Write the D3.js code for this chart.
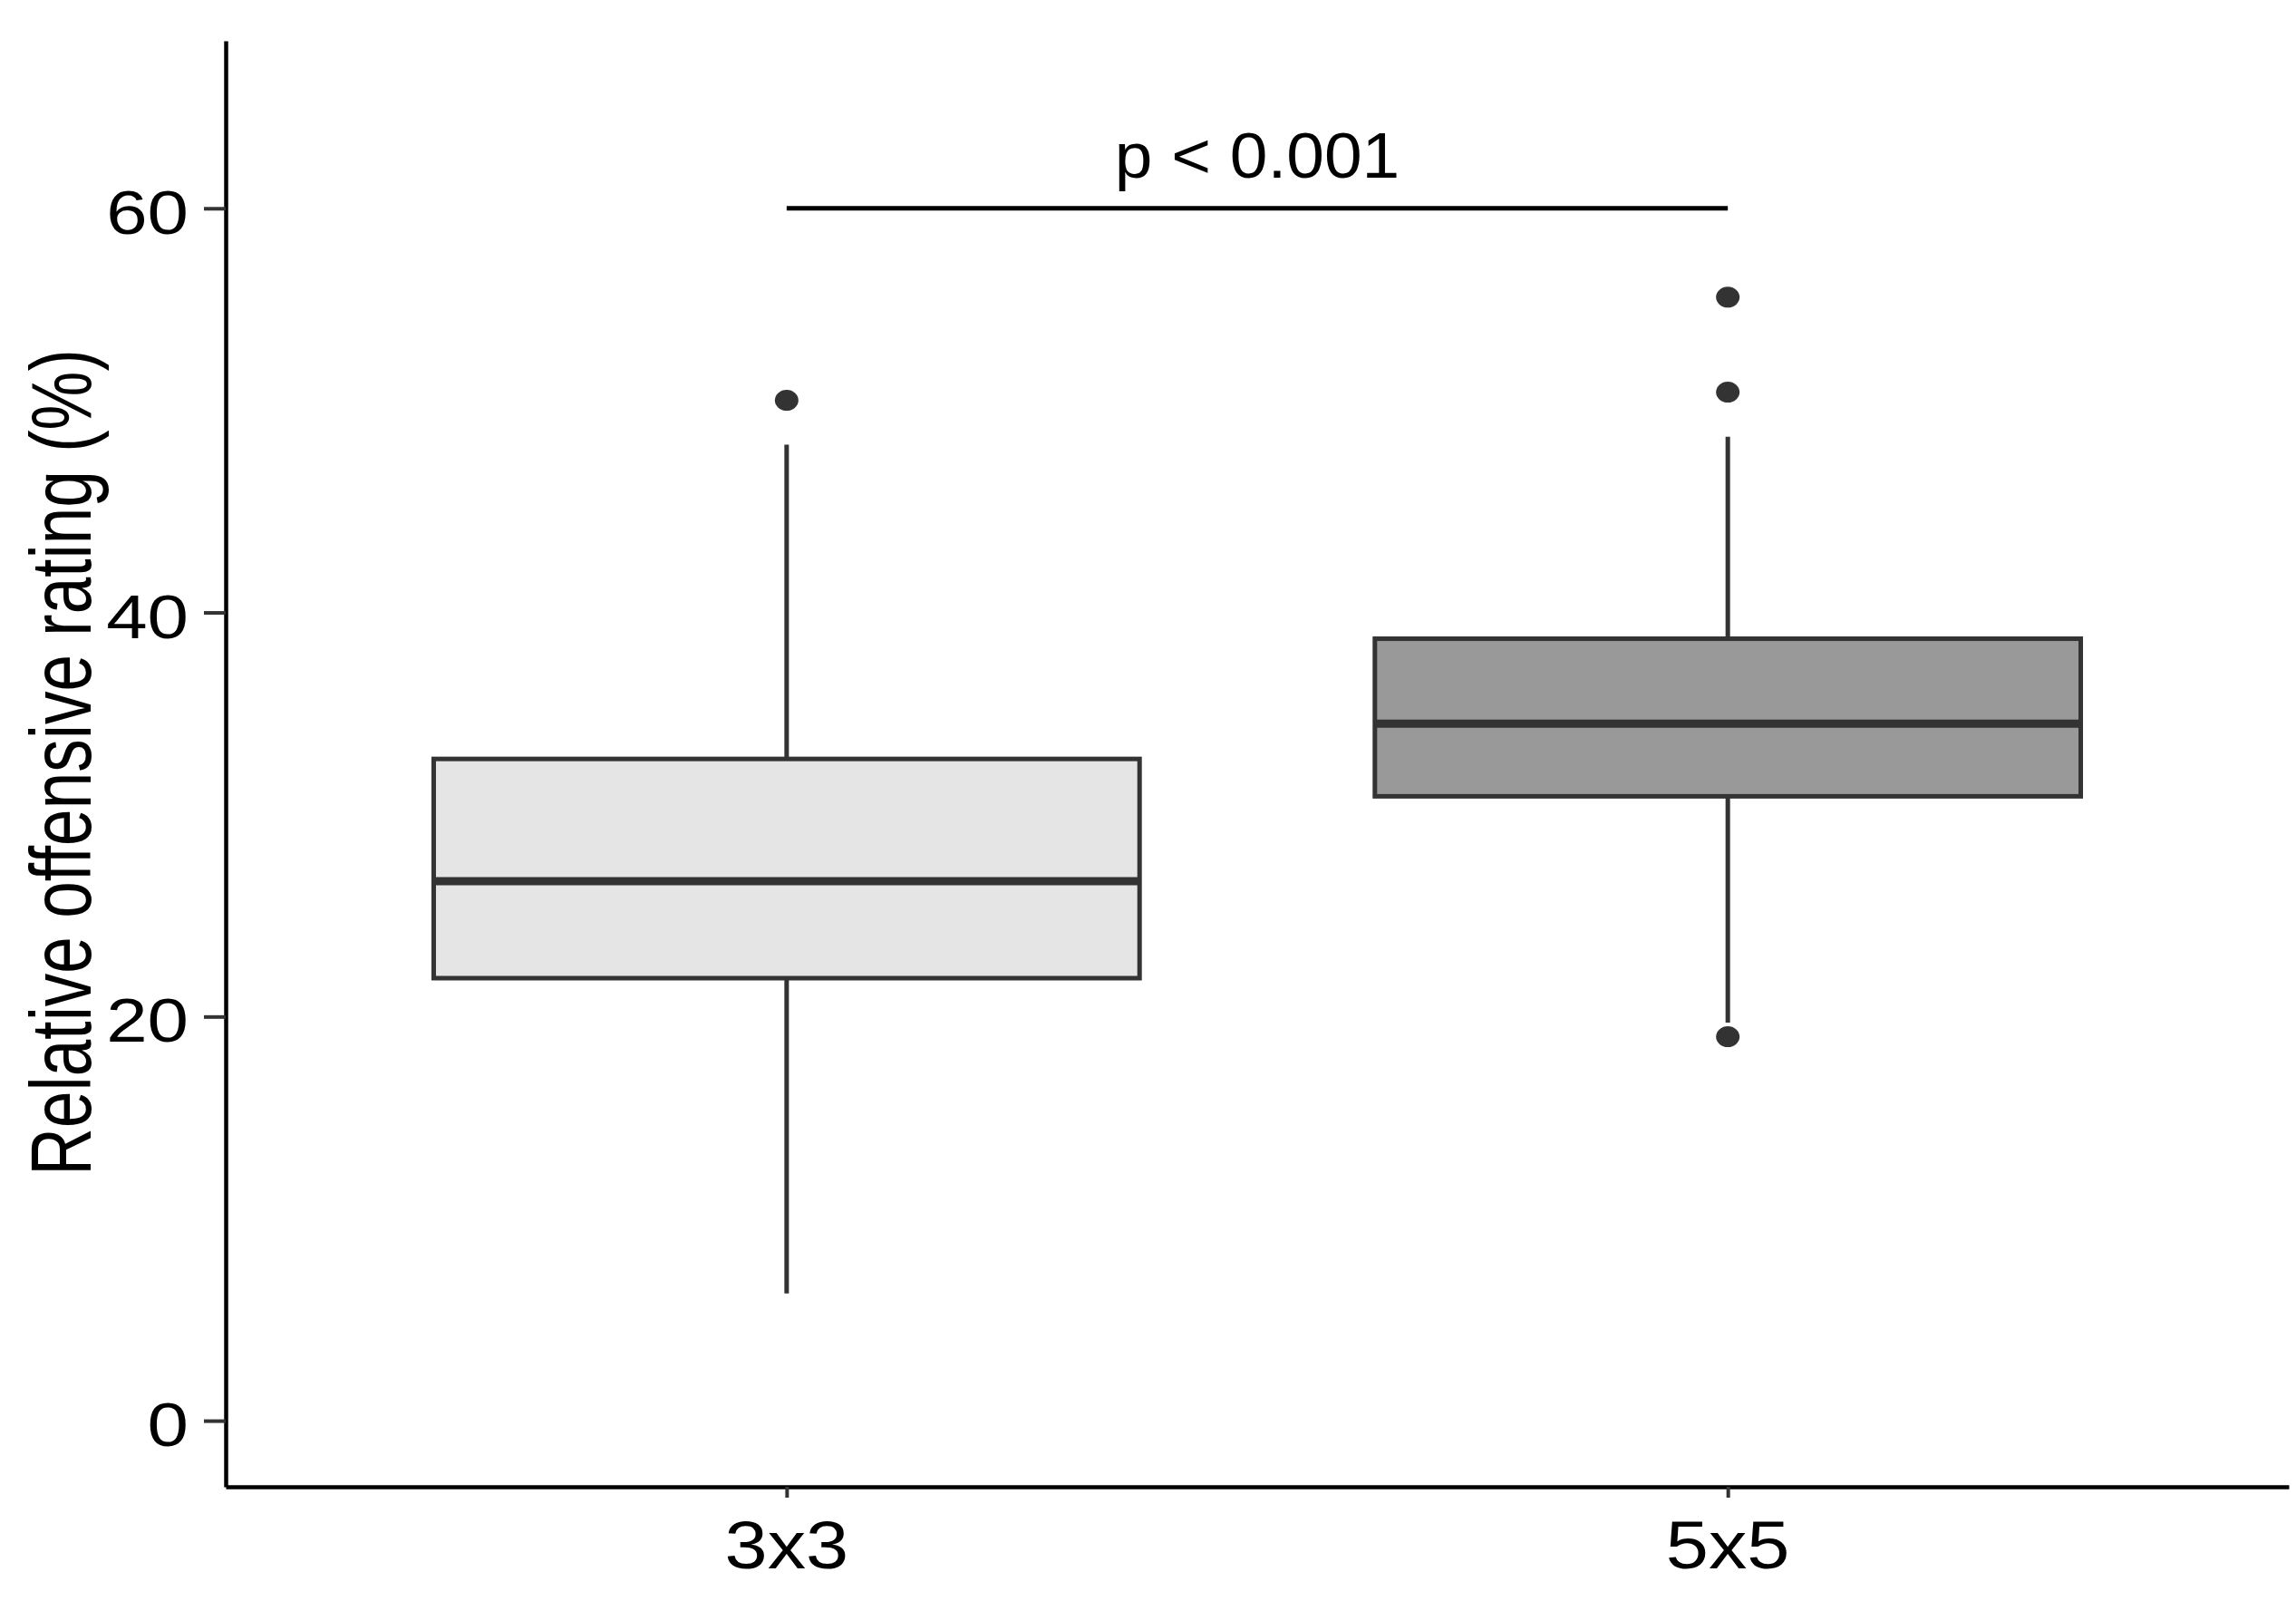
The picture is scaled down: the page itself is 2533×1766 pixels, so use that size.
<!DOCTYPE html>
<html>
<head>
<meta charset="utf-8">
<script src="https://cdn.jsdelivr.net/npm/d3@7"></script>
<style>
  body { margin: 0; background: #fff; }
  text { font-family: 'Liberation Sans', Arial, sans-serif; fill: #000; }
</style>
</head>
<body>
<div id="chart"></div>
<script>
// data
const groups = ['3x3', '5x5']
const lowerWhisker = [6.3, 19.7]
const q1 = [21.9, 30.9]
const median = [26.7, 34.5]
const q3 = [32.75, 38.7]
const upperWhisker = [48.3, 48.7]
const outliers = [[50.5], [55.6, 50.9, 19.0]]
const fills = ['#e5e5e5', '#999999']
const yTicks = [0, 20, 40, 60]
const pLabel = 'p < 0.001'
const pBarValue = 60

const W = 2533, H = 1766

const svg = d3.select('#chart').append('svg')
  .attr('width', W)
  .attr('height', H)

const x = d3.scalePoint()
  .domain(groups)
  .range([249, 2525])
  .padding(0.596)

const y = d3.scaleLinear()
  .domain([-3.27, 68.29])
  .range([1640, 45])

const boxW = x.step() * 0.75

// y axis
const yAxis = svg.append('g')
  .attr('transform', 'translate(249,0)')
  .call(d3.axisLeft(y).tickValues(yTicks).tickSize(24).tickSizeOuter(0).tickFormat(''))
yAxis.select('.domain').attr('stroke', '#000').attr('stroke-width', 4.5)
yAxis.selectAll('.tick line').attr('stroke', '#333').attr('stroke-width', 4)

svg.append('g').selectAll('text')
  .data(yTicks)
  .enter()
  .append('text')
  .attr('transform', (d) => `translate(208,${y(d) + 28}) scale(1.2,1)`)
  .attr('text-anchor', 'end')
  .attr('font-size', 68)
  .text((d) => d)

// x axis
const xAxis = svg.append('g')
  .attr('transform', 'translate(0,1640)')
  .call(d3.axisBottom(x).tickSize(12).tickSizeOuter(0).tickFormat(''))
xAxis.select('.domain').attr('stroke', '#000').attr('stroke-width', 4.5)
xAxis.selectAll('.tick line').attr('stroke', '#333').attr('stroke-width', 4)

svg.append('g').selectAll('text')
  .data(groups)
  .enter()
  .append('text')
  .attr('transform', (d) => `translate(${x(d)},1730) scale(1.13,1)`)
  .attr('text-anchor', 'middle')
  .attr('font-size', 75)
  .text((d) => d)

// y axis title
svg.append('text')
  .attr('transform', 'translate(100,841) rotate(-90) scale(1,1.3)')
  .attr('text-anchor', 'middle')
  .attr('font-size', 73)
  .text('Relative offensive rating (%)')

// boxes
const box = svg.append('g').selectAll('g')
  .data(groups)
  .enter()
  .append('g')

box.append('line')
  .attr('x1', (d) => x(d))
  .attr('x2', (d) => x(d))
  .attr('y1', (d, i) => y(upperWhisker[i]))
  .attr('y2', (d, i) => y(q3[i]))
  .attr('stroke', '#333')
  .attr('stroke-width', 5)

box.append('line')
  .attr('x1', (d) => x(d))
  .attr('x2', (d) => x(d))
  .attr('y1', (d, i) => y(q1[i]))
  .attr('y2', (d, i) => y(lowerWhisker[i]))
  .attr('stroke', '#333')
  .attr('stroke-width', 5)

box.append('rect')
  .attr('x', (d) => x(d) - boxW / 2)
  .attr('y', (d, i) => y(q3[i]))
  .attr('width', boxW)
  .attr('height', (d, i) => y(q1[i]) - y(q3[i]))
  .attr('fill', (d, i) => fills[i])
  .attr('stroke', '#333')
  .attr('stroke-width', 5)

box.append('line')
  .attr('x1', (d) => x(d) - boxW / 2)
  .attr('x2', (d) => x(d) + boxW / 2)
  .attr('y1', (d, i) => y(median[i]))
  .attr('y2', (d, i) => y(median[i]))
  .attr('stroke', '#333')
  .attr('stroke-width', 9)

box.selectAll('ellipse')
  .data((d, i) => outliers[i].map((v) => ({ g: d, v })))
  .enter()
  .append('ellipse')
  .attr('cx', (d) => x(d.g))
  .attr('cy', (d) => y(d.v))
  .attr('rx', 13)
  .attr('ry', 11.5)
  .attr('fill', '#333')

// significance bar
svg.append('line')
  .attr('x1', x(groups[0]))
  .attr('x2', x(groups[1]))
  .attr('y1', y(pBarValue))
  .attr('y2', y(pBarValue))
  .attr('stroke', '#000')
  .attr('stroke-width', 5)

svg.append('text')
  .attr('transform', `translate(${(x(groups[0]) + x(groups[1])) / 2},196) scale(1.07,1)`)
  .attr('text-anchor', 'middle')
  .attr('font-size', 70)
  .text(pLabel)
</script>
</body>
</html>
